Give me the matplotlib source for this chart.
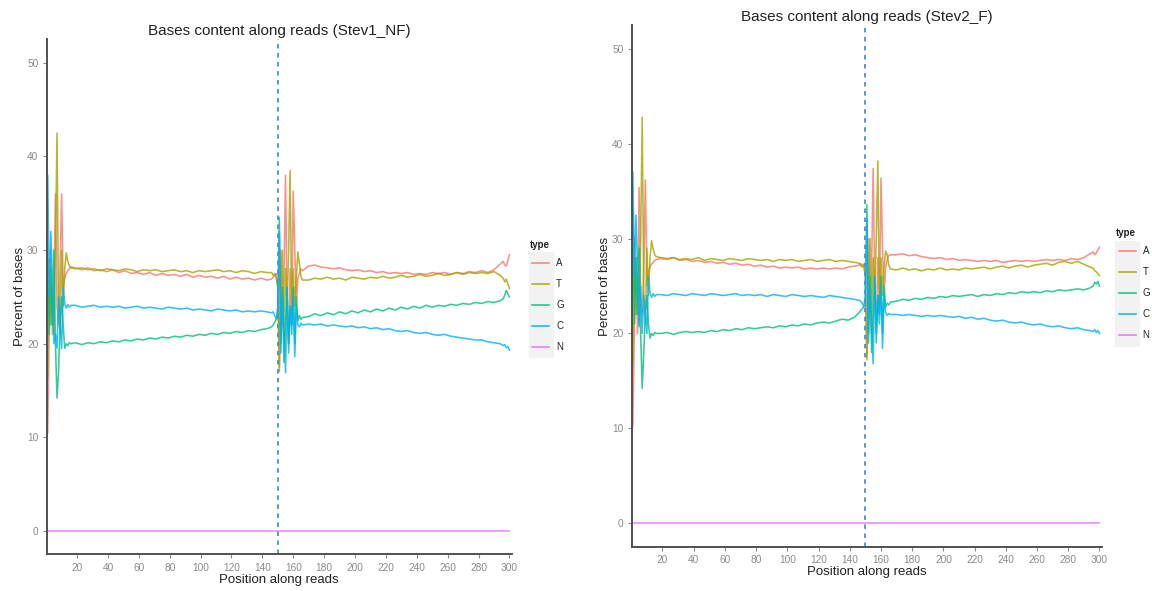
import matplotlib
matplotlib.use("Agg")
import matplotlib.pyplot as plt
from matplotlib.lines import Line2D

plt.rcParams['font.family'] = ['Liberation Sans', 'DejaVu Sans']

# posiciones leidas (mas densas en las zonas ruidosas)
posiciones = (list(range(1, 17)) + list(range(19, 144, 4)) + list(range(146, 167))
              + list(range(170, 295, 4)) + list(range(296, 301)))

tipos = ['A', 'T', 'G', 'C', 'N']
colores = ['#F8766D', '#A3A500', '#00BF7D', '#00B0F6', '#E76BF3']

# ---- Stev1_NF ----
a_nf = [10.5, 22, 30, 21, 26, 36, 24, 22, 28, 36, 26, 27, 27.5, 27.8, 28, 28.2,
        28.1, 27.9, 28.1, 27.8, 27.9, 27.7, 27.9, 27.6, 27.8, 27.5, 27.6, 27.4, 27.6, 27.3, 27.5, 27.3,
        27.4, 27.2, 27.4, 27.1, 27.3, 27.1, 27.2, 27.0, 27.2, 26.9, 27.1, 26.9, 27.0, 26.8, 27.0, 26.8,
        26.9, 27.1, 27.3, 27.5, 26, 17.5, 30, 22, 27, 38, 24, 20, 28, 22, 36.3, 30, 24, 27, 27.5, 28, 27.8,
        28.3, 28.4, 28.2, 28.1, 28.0, 28.1, 27.9, 27.8, 27.9, 27.7, 27.8, 27.6, 27.7, 27.5, 27.6, 27.5,
        27.6, 27.4, 27.5, 27.4, 27.6, 27.5, 27.6, 27.4, 27.6, 27.5, 27.7, 27.6, 27.8, 27.6, 27.9, 28.5,
        28.8, 28.4, 28.3, 28.9, 29.5]
t_nf = [16.5, 29, 22, 26, 21, 30, 42.5, 24, 21, 30, 24, 28, 29.7, 28.8, 28.3, 28.1,
        28.0, 28.1, 27.9, 28.0, 27.8, 28.0, 27.9, 27.8, 28.0, 27.9, 27.7, 27.9, 27.8, 27.9, 27.7, 27.8,
        27.9, 27.7, 27.8, 27.6, 27.8, 27.7, 27.8, 27.9, 27.7, 27.8, 27.6, 27.8, 27.7, 27.5, 27.7, 27.6,
        27.6, 27.3, 27.5, 27.0, 26, 17, 25, 30, 20, 28, 24, 30, 38.5, 23, 28, 24, 27, 29.8, 28.5, 27.2, 26.8,
        26.8, 27.0, 26.9, 27.1, 26.9, 27.0, 26.8, 27.1, 27.0, 26.9, 27.1, 27.0, 27.2, 27.0, 27.1, 27.3,
        27.1, 27.2, 27.4, 27.2, 27.3, 27.5, 27.3, 27.4, 27.6, 27.4, 27.6, 27.5, 27.6, 27.5, 27.7, 27.3,
        27.0, 26.6, 26.9, 26.4, 25.9]
g_nf = [29, 21, 28, 22, 30, 20, 14.2, 17, 22, 25, 22, 19.5, 20.0, 19.8, 20.1, 20.0,
        20.1, 19.9, 20.1, 20.0, 20.2, 20.1, 20.3, 20.2, 20.4, 20.3, 20.5, 20.4, 20.6, 20.5, 20.7, 20.6,
        20.8, 20.7, 20.9, 20.8, 21.0, 20.9, 21.1, 21.0, 21.2, 21.1, 21.3, 21.2, 21.4, 21.3, 21.5, 21.6,
        21.8, 22.0, 22.3, 22.6, 24, 33.5, 20, 26, 18, 22, 26, 19, 24, 22, 26, 20, 25, 22.5, 23, 22.6, 22.8,
        22.9, 23.2, 23.0, 23.3, 23.1, 23.4, 23.2, 23.5, 23.3, 23.6, 23.4, 23.7, 23.5, 23.8, 23.6, 23.9,
        23.7, 24.0, 23.8, 24.1, 23.9, 24.1, 24.0, 24.2, 24.1, 24.3, 24.2, 24.4, 24.3, 24.5, 24.4, 24.6,
        24.8, 25.2, 25.7, 25.3, 25.0]
c_nf = [38, 25, 32, 27, 20, 21, 19.5, 25, 22, 19.5, 26, 24.3, 23.8, 24.2, 23.9, 24.1,
        24.1, 23.9, 24.0, 24.1, 23.9, 24.0, 23.9, 24.0, 23.8, 23.9, 24.0, 23.8, 23.9, 23.8, 23.7, 23.9,
        23.8, 23.7, 23.8, 23.6, 23.7, 23.6, 23.5, 23.7, 23.6, 23.5, 23.6, 23.4, 23.5, 23.4, 23.5, 23.4,
        23.3, 23.4, 23.0, 22.7, 23, 32, 19, 25, 21, 16.9, 26, 20, 24, 21, 25, 18.6, 24, 22, 21.8, 22.2, 22.0,
        22.1, 22.0, 22.1, 21.9, 22.0, 21.9, 21.8, 21.9, 21.7, 21.8, 21.6, 21.7, 21.5, 21.6, 21.4, 21.3,
        21.4, 21.2, 21.1, 21.2, 21.0, 20.9, 21.0, 20.8, 20.7, 20.6, 20.5, 20.4, 20.4, 20.2, 20.1, 20.0,
        19.8, 19.9, 19.6, 19.7, 19.3]

# ---- Stev2_F ----
a_f = [10.2, 21, 28, 20, 35.4, 24, 22, 27, 36.2, 25, 26.5, 27, 27.3, 27.5, 27.7, 27.8,
       27.9, 27.8, 28.0, 27.7, 27.8, 27.6, 27.7, 27.5, 27.6, 27.4, 27.5, 27.3, 27.4, 27.2, 27.3, 27.1,
       27.2, 27.0, 27.1, 26.9, 27.0, 26.9, 27.0, 26.8, 26.9, 26.8, 26.9, 26.8, 26.9, 26.8, 27.0, 27.1,
       27.2, 27.4, 27.1, 27.3, 26, 17.5, 30, 22, 27, 37.4, 25, 21, 28, 23, 36.4, 29, 24, 27, 27.8, 28.2, 28.3,
       28.3, 28.4, 28.2, 28.3, 28.1, 28.0, 27.9, 28.0, 27.8, 27.9, 27.7, 27.8, 27.7, 27.6, 27.7, 27.6,
       27.7, 27.5, 27.6, 27.7, 27.6, 27.7, 27.6, 27.7, 27.8, 27.7, 27.8, 27.7, 27.9, 27.8, 28.0, 28.4,
       28.6, 28.3, 28.5, 28.8, 29.1]
t_f = [17, 30, 22, 26, 21, 30, 42.8, 24, 21, 29, 24, 28, 29.8, 28.9, 28.3, 28.1,
       28.0, 27.9, 28.0, 27.8, 27.9, 27.8, 28.0, 27.7, 27.9, 27.8, 27.7, 27.9, 27.8, 27.7, 27.9, 27.8,
       27.7, 27.8, 27.6, 27.8, 27.7, 27.8, 27.6, 27.7, 27.8, 27.6, 27.7, 27.8, 27.6, 27.7, 27.6, 27.5,
       27.4, 27.2, 27.0, 27.3, 26, 17.2, 25, 30, 20, 28, 24, 30, 38.2, 23, 28, 24, 27, 28.7, 28.3, 27.2, 26.8,
       26.7, 26.9, 26.7, 26.8, 26.6, 26.8, 26.7, 26.9, 26.7, 26.8, 26.7, 26.9, 26.8, 26.9, 27.0, 26.8,
       27.0, 27.1, 26.9, 27.1, 27.2, 27.0, 27.2, 27.3, 27.4, 27.2, 27.5, 27.6, 27.4, 27.6, 27.3, 27.0,
       26.9, 26.6, 26.5, 26.3, 26.1]
g_f = [33, 21, 28, 22, 29, 20, 14.2, 18, 22, 24, 21, 19.5, 20.0, 19.8, 20.1, 20.0,
       20.0, 20.1, 19.9, 20.1, 20.2, 20.1, 20.2, 20.1, 20.3, 20.2, 20.4, 20.3, 20.5, 20.4, 20.6, 20.5,
       20.6, 20.7, 20.6, 20.8, 20.7, 20.9, 20.8, 21.0, 20.9, 21.1, 21.2, 21.1, 21.3, 21.5, 21.4, 21.7,
       22.2, 22.4, 22.6, 22.8, 24, 33.6, 20, 26, 18, 22, 26, 19, 24, 22, 26, 20, 25, 22.8, 23.2, 23.0, 23.3,
       23.4, 23.6, 23.5, 23.7, 23.6, 23.8, 23.7, 23.9, 23.8, 24.0, 23.9, 24.0, 24.1, 23.9, 24.1, 24.0,
       24.2, 24.1, 24.3, 24.2, 24.4, 24.3, 24.4, 24.3, 24.5, 24.4, 24.6, 24.5, 24.6, 24.7, 24.6, 24.8,
       25.0, 25.4, 25.2, 25.5, 25.0]
c_f = [37, 26, 32.5, 27, 20.7, 25, 20, 24, 22, 20, 26, 24.3, 23.8, 24.2, 23.9, 24.1,
       24.1, 24.0, 24.2, 24.1, 24.0, 24.2, 24.1, 24.0, 24.2, 24.1, 24.0, 24.1, 24.2, 24.0, 24.1, 24.0,
       24.1, 23.9, 24.1, 24.0, 23.9, 24.1, 24.0, 23.9, 24.0, 23.9, 23.8, 24.0, 23.9, 23.8, 23.7, 23.6,
       23.5, 23.4, 23.2, 22.8, 23, 32, 19, 25, 21, 16.8, 26, 20, 24, 21, 25, 18.4, 24, 22.2, 21.9, 22.1, 22.0,
       22.0, 21.9, 22.0, 21.9, 21.8, 21.9, 21.8, 21.9, 21.8, 21.7, 21.8, 21.6, 21.7, 21.5, 21.6, 21.4,
       21.3, 21.4, 21.2, 21.1, 21.2, 21.0, 20.9, 21.0, 20.8, 20.7, 20.8, 20.6, 20.5, 20.6, 20.4, 20.3,
       20.2, 20.4, 20.1, 20.3, 20.0]

n_vals = [0] * len(posiciones)

paneles = [
    ("Bases content along reads (Stev1_NF)", [a_nf, t_nf, g_nf, c_nf, n_vals],
     [0.0405, 0.0621, 0.4037, 0.8711]),
    ("Bases content along reads (Stev2_F)", [a_f, t_f, g_f, c_f, n_vals],
     [0.5484, 0.0750, 0.4080, 0.8820]),
]
# posicion de la leyenda (x, y del titulo) en fraccion de figura
leyendas = [(0.4600, 0.585), (0.9690, 0.605)]

fig = plt.figure(figsize=(11.52, 5.91), dpi=100)
gris = '#8a8a8a'

for (titulo, series, caja), (lx, ly) in zip(paneles, leyendas):
    ax = fig.add_axes(caja)
    for vals, col in zip(series, colores):
        ax.plot(posiciones, vals, color=col, lw=1.15, alpha=0.8)
    ax.axvline(150, color='#4C8FD6', lw=1.3, ls=(0, (2.5, 2.5)))
    ax.set_xlim(0.3, 301.5)
    ax.set_ylim(-2.5, 52.5)
    ax.set_xticks(range(20, 301, 20))
    ax.set_yticks(range(0, 51, 10))
    for s in ['top', 'right']:
        ax.spines[s].set_visible(False)
    for s in ['left', 'bottom']:
        ax.spines[s].set_color('#505050')
        ax.spines[s].set_linewidth(1.4)
    ax.tick_params(colors=gris, labelcolor=gris, labelsize=7.3, length=3, width=0.8, pad=3)
    ax.set_title(titulo, fontsize=11, color='#222222', pad=3)
    ax.set_xlabel("Position along reads", fontsize=9.5, color='#222222', labelpad=1)
    ax.set_ylabel("Percent of bases", fontsize=9.5, color='#222222', labelpad=1)

    # leyenda estilo ggplot
    fig.text(lx, ly, "type", fontsize=7, fontweight='bold', color='#222222', va='center')
    paso = 21 / 591
    ancho = 24 / 1152
    fig.patches.append(plt.Rectangle((lx - 0.001, ly - 0.012 - 5 * paso), ancho, 5 * paso,
                                     transform=fig.transFigure, color='#F2F2F2', zorder=0))
    for i, (t, col) in enumerate(zip(tipos, colores)):
        yy = ly - 0.012 - (i + 0.5) * paso
        fig.lines.append(Line2D([lx + 0.002, lx + 0.002 + 17 / 1152], [yy, yy],
                                transform=fig.transFigure, color=col, lw=1.2, alpha=0.85))
        fig.text(lx + ancho + 0.002, yy, t, fontsize=7, color='#222222', va='center')

fig.savefig("out.png", dpi=100)
